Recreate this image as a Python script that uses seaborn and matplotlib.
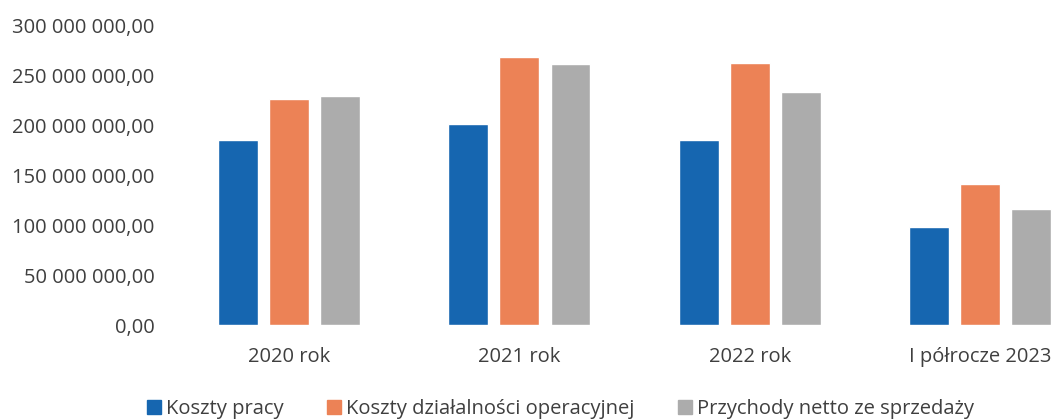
import matplotlib
matplotlib.use("Agg")
import matplotlib.pyplot as plt
import matplotlib.ticker as mticker
from matplotlib.lines import Line2D
import numpy as np
import pandas as pd
import seaborn as sns

periods = ["2020 rok", "2021 rok", "2022 rok", "I półrocze 2023"]
series_names = ["Koszty pracy", "Koszty działalności operacyjnej", "Przychody netto ze sprzedaży"]
koszty_pracy = [185_500_000, 202_000_000, 186_000_000, 98_000_000]
koszty_dzialalnosci = [227_000_000, 269_000_000, 263_000_000, 141_000_000]
przychody_netto = [230_000_000, 262_000_000, 234_000_000, 116_000_000]
y_ticks = [0, 50_000_000, 100_000_000, 150_000_000, 200_000_000, 250_000_000, 300_000_000]

colors = ["#1666b0", "#ec8256", "#acacac"]
text_color = "#3f3f3f"

df = pd.DataFrame({
    "okres": periods * 3,
    "seria": np.repeat(series_names, len(periods)),
    "wartosc": koszty_pracy + koszty_dzialalnosci + przychody_netto,
})

sns.set_theme(style="white")
plt.rcParams["font.family"] = ["Open Sans", "DejaVu Sans"]

fig = plt.figure(figsize=(10.52, 4.2), dpi=100)
ax = fig.add_axes([174 / 1052, 95 / 420, (1052 - 174) / 1052, 299 / 420])

sns.barplot(data=df, x="okres", y="wartosc", hue="seria", order=periods,
            hue_order=series_names, palette=colors, width=0.665, gap=0.22,
            saturation=1, ax=ax, legend=False)

ax.set_xlim(-0.5, 3 + (1052 - 980) / 230)
ax.set_ylim(0, 300_000_000)
ax.set_yticks(y_ticks)


def pl_format(v, _pos):
    s = f"{v:,.2f}"
    return s.replace(",", " ").replace(".", ",")


ax.yaxis.set_major_formatter(mticker.FuncFormatter(pl_format))
ax.set_xlabel("")
ax.set_ylabel("")
for side in ax.spines.values():
    side.set_visible(False)
ax.tick_params(axis="both", length=0, labelsize=14.5, colors=text_color)
ax.tick_params(axis="y", pad=14)
ax.tick_params(axis="x", pad=16)
ax.grid(False)

handles = [Line2D([0], [0], marker="s", linestyle="none", markersize=10,
                  markerfacecolor=c, markeredgecolor=c) for c in colors]
fig.legend(handles, series_names, loc="center", bbox_to_anchor=(560 / 1052, 11 / 420),
           ncol=3, frameon=False, fontsize=14.5, handletextpad=0.2,
           columnspacing=2.1, handlelength=0.8, labelcolor=text_color)

fig.savefig("out.png", dpi=100)
